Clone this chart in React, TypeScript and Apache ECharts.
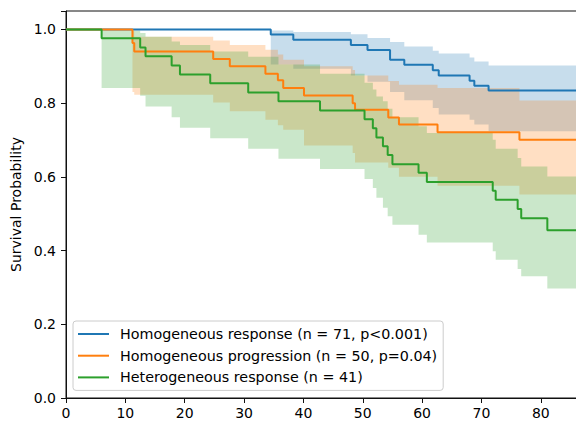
import React, { useEffect, useRef } from "react";
import * as echarts from "echarts";

// ---- data ----
const X_MAX = 89.3;
const Y_MAX = 1.05;

const blueLabel = "Homogeneous response (n = 71, p<0.001)";
const blueTimes = [0, 34.5, 38.3, 48.0, 50.8, 54.6, 57.0, 61.8, 62.8, 68.0, 68.8, 71.2];
const blueSurv = [1.0, 0.986, 0.972, 0.958, 0.944, 0.918, 0.904, 0.889, 0.875, 0.861, 0.847, 0.834];
const blueLower = [1.0, 0.905, 0.893, 0.875, 0.858, 0.83, 0.808, 0.787, 0.769, 0.755, 0.742, 0.724];
const blueUpper = [1.0, 0.997, 0.993, 0.987, 0.977, 0.966, 0.954, 0.942, 0.935, 0.924, 0.913, 0.902];

const orangeLabel = "Homogeneous progression (n = 50, p=0.04)";
const orangeTimes = [0, 11.2, 11.5, 24.8, 27.6, 33.6, 35.7, 36.6, 40.1, 48.3, 48.7, 54.3, 56.1, 62.6, 76.4];
const orangeSurv = [1.0, 0.963, 0.94, 0.92, 0.9, 0.88, 0.862, 0.841, 0.821, 0.8, 0.782, 0.761, 0.742, 0.721, 0.701];
const orangeLower = [1.0, 0.83, 0.823, 0.802, 0.778, 0.755, 0.74, 0.728, 0.685, 0.665, 0.639, 0.625, 0.6, 0.576, 0.552];
const orangeUpper = [1.0, 0.995, 0.98, 0.97, 0.958, 0.945, 0.932, 0.918, 0.9, 0.89, 0.875, 0.86, 0.85, 0.841, 0.807];

const greenLabel = "Heterogeneous response (n = 41)";
const greenTimes = [0, 6.0, 12.5, 13.4, 17.8, 19.2, 24.3, 30.7, 35.8, 42.8, 50.3, 51.7, 52.3, 53.4, 54.2, 55.0, 59.4, 60.8, 71.9, 72.4, 76.1, 76.7, 81.1];
const greenSurv = [1.0, 0.976, 0.951, 0.927, 0.902, 0.878, 0.854, 0.829, 0.805, 0.78, 0.756, 0.732, 0.707, 0.683, 0.659, 0.634, 0.611, 0.586, 0.562, 0.538, 0.513, 0.488, 0.455];
const greenLower = [1.0, 0.841, 0.82, 0.791, 0.762, 0.733, 0.705, 0.676, 0.649, 0.621, 0.594, 0.57, 0.543, 0.516, 0.493, 0.47, 0.443, 0.422, 0.398, 0.375, 0.35, 0.33, 0.297];
const greenUpper = [1.0, 0.997, 0.99, 0.98, 0.967, 0.958, 0.94, 0.926, 0.905, 0.88, 0.855, 0.837, 0.818, 0.805, 0.785, 0.762, 0.737, 0.719, 0.701, 0.676, 0.651, 0.628, 0.601];

const groups = [
  { key: "b", label: blueLabel, color: "#1f77b4", fill: "rgba(31,119,180,0.25)", t: blueTimes, s: blueSurv, lo: blueLower, hi: blueUpper },
  { key: "o", label: orangeLabel, color: "#ff7f0e", fill: "rgba(255,127,14,0.25)", t: orangeTimes, s: orangeSurv, lo: orangeLower, hi: orangeUpper },
  { key: "g", label: greenLabel, color: "#2ca02c", fill: "rgba(44,160,44,0.25)", t: greenTimes, s: greenSurv, lo: greenLower, hi: greenUpper },
];

const FONT = "DejaVu Sans";

function pairs(t: number[], v: number[]) {
  const d = t.map((x, i) => [x, v[i]]);
  d.push([X_MAX, v[v.length - 1]]);
  return d;
}

function bandSeries(g: any) {
  return {
    name: g.key + "_band",
    type: "custom",
    silent: true,
    clip: true,
    data: [[0, 1]],
    encode: { x: 0, y: 1 },
    renderItem: (_params: any, api: any) => {
      const n = g.t.length;
      const pts: number[][] = [];
      for (let i = 0; i < n; i++) {
        const t0 = g.t[i];
        const t1 = i + 1 < n ? g.t[i + 1] : X_MAX;
        pts.push(api.coord([t0, g.hi[i]]));
        pts.push(api.coord([t1, g.hi[i]]));
      }
      for (let i = n - 1; i >= 0; i--) {
        const t0 = g.t[i];
        const t1 = i + 1 < n ? g.t[i + 1] : X_MAX;
        pts.push(api.coord([t1, g.lo[i]]));
        pts.push(api.coord([t0, g.lo[i]]));
      }
      return {
        type: "polygon",
        shape: { points: pts },
        style: { fill: g.fill, stroke: "none" },
      };
    },
  };
}

function buildSeries() {
  const series: any[] = [];
  groups.forEach((g) => {
    series.push(bandSeries(g));
    series.push({
      name: g.label,
      type: "line",
      step: "end",
      data: pairs(g.t, g.s),
      showSymbol: false,
      lineStyle: { color: g.color, width: 2 },
      itemStyle: { color: g.color },
    });
  });
  return series;
}

export default function App() {
  const ref = useRef<HTMLDivElement>(null);
  useEffect(() => {
    if (!ref.current) return;
    const chart = echarts.init(ref.current, null, { renderer: "svg" });
    chart.setOption({
      animation: false,
      backgroundColor: "#ffffff",
      grid: {
        left: 66,
        top: 11,
        width: 530,
        height: 387,
        show: true,
        borderColor: "#111",
        borderWidth: 1,
        backgroundColor: "transparent",
      },
      xAxis: {
        type: "value",
        min: 0,
        max: X_MAX,
        interval: 10,
        splitLine: { show: false },
        axisLine: { show: true, lineStyle: { color: "#111", width: 1 } },
        axisTick: { show: true, length: 5, lineStyle: { color: "#111" } },
        axisLabel: {
          margin: 8,
          fontSize: 14,
          fontFamily: FONT,
          color: "#000",
          formatter: (v: number) => (Math.abs(v / 10 - Math.round(v / 10)) < 1e-6 ? String(Math.round(v)) : ""),
        },
      },
      yAxis: {
        type: "value",
        min: 0,
        max: Y_MAX,
        interval: 0.2,
        name: "Survival Probability",
        nameLocation: "middle",
        nameGap: 40,
        nameTextStyle: { fontSize: 14, fontFamily: FONT, color: "#000" },
        splitLine: { show: false },
        axisLine: { show: true, lineStyle: { color: "#111", width: 1 } },
        axisTick: { show: true, length: 5, lineStyle: { color: "#111" } },
        axisLabel: {
          margin: 10,
          fontSize: 14,
          fontFamily: FONT,
          color: "#000",
          formatter: (v: number) => (Math.abs(v * 5 - Math.round(v * 5)) < 1e-6 ? v.toFixed(1) : ""),
        },
      },
      legend: {
        data: groups.map((g) => g.label),
        orient: "vertical",
        left: 73,
        top: 321,
        icon: "rect",
        itemWidth: 31,
        itemHeight: 2,
        itemGap: 5.7,
        padding: [5, 6, 5, 5],
        backgroundColor: "rgba(255,255,255,0.8)",
        borderColor: "#cccccc",
        borderWidth: 1,
        borderRadius: 3,
        selectedMode: false,
        textStyle: { fontSize: 14.3, fontFamily: FONT, color: "#000", lineHeight: 16, padding: [0, 0, 0, 6] },
      },
      series: buildSeries(),
    });
    return () => chart.dispose();
  }, []);
  return (
    <div
      ref={ref}
      style={{ position: "fixed", left: 0, top: 0, width: 600, height: 421, background: "#fff" }}
    />
  );
}
